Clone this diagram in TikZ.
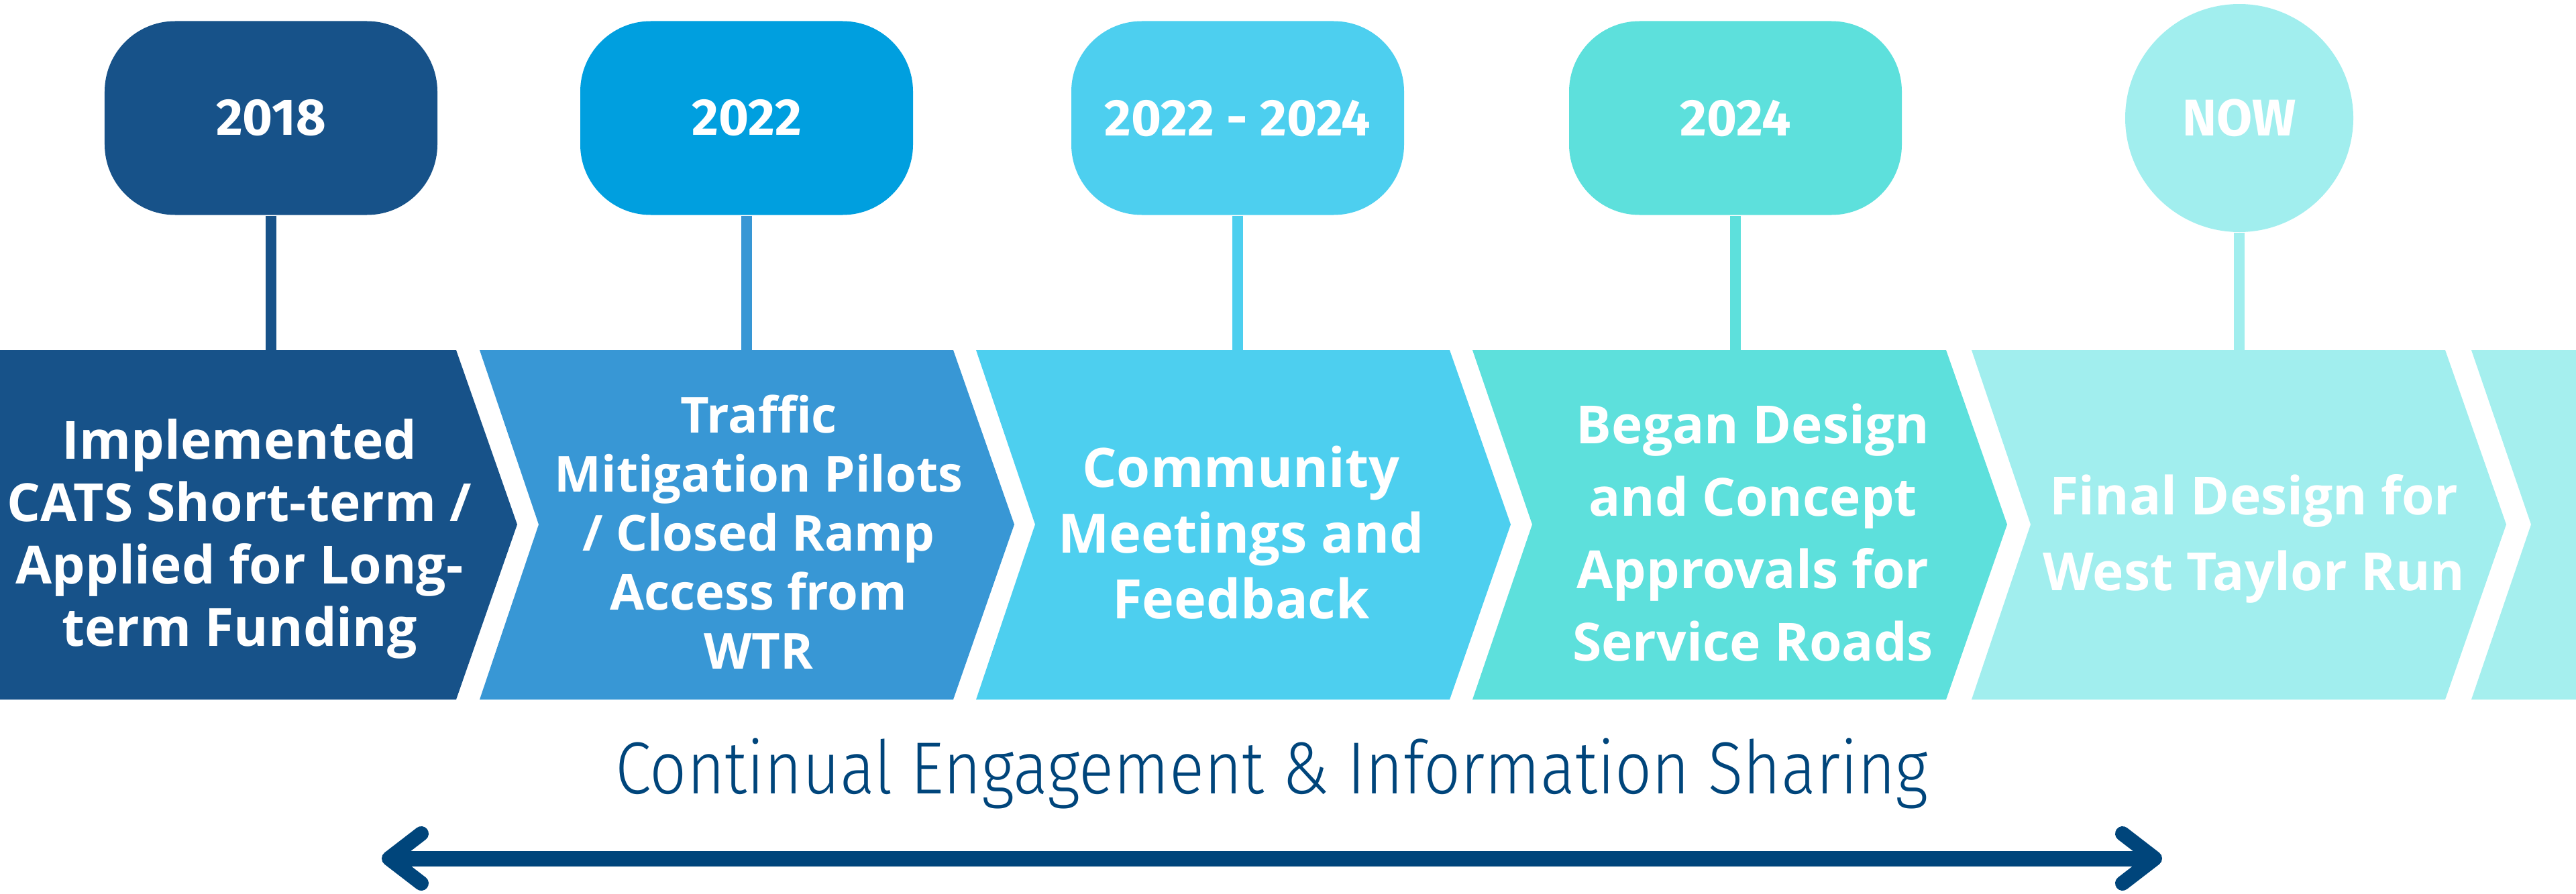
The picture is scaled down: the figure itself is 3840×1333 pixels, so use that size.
\documentclass[tikz,border=0pt]{standalone}
\usepackage{fontspec}
\usepackage{graphicx}
\newfontfamily\fira{Fira Sans}
\newfontfamily\opens{Open Sans}
\newfontfamily\firalt{Fira Sans Light}
\definecolor{cA}{HTML}{175289}
\definecolor{cBbox}{HTML}{009FDF}
\definecolor{cB}{HTML}{3897D5}
\definecolor{cC}{HTML}{4DCFEF}
\definecolor{cD}{HTML}{5DE0DC}
\definecolor{cE}{HTML}{A1EEEE}
\definecolor{cF}{HTML}{A5EFEE}
\definecolor{navy}{HTML}{00457B}
\newcommand\ms{\rule[-0.25em]{0pt}{1.1em}}
\begin{document}
\begin{tikzpicture}[x=0.2pt,y=-0.2pt,
  yearbox/.style={rounded corners=21pt, minimum width=99.2pt, minimum height=57.8pt, inner sep=0pt, text=white, font=\fira\bfseries\fontsize{15.4}{18}\selectfont},
  nowcirc/.style={circle, minimum size=68pt, inner sep=0pt, text=white, font=\fira\bfseries\fontsize{15.4}{18}\selectfont},
  stemline/.style={line width=3.2pt},
  chevtext/.style={text=white, align=center, inner sep=0pt}]
\useasboundingbox (0,0) rectangle (3840,1333);
% year boxes
\node[yearbox, fill=cA] (y1) at (404,176) {2018};
\node[yearbox, fill=cBbox] (y2) at (1113,176) {2022};
\node[yearbox, fill=cC] (y3) at (1845,176) {2022 - 2024};
\node[yearbox, fill=cD] (y4) at (2587,176) {2024};
\node[nowcirc, fill=cE] (y5) at (3338,176) {NOW};
% stems
\coordinate (s1) at (404,530);
\coordinate (s2) at (1113,530);
\coordinate (s3) at (1845,530);
\coordinate (s4) at (2587,530);
\coordinate (s5) at (3338,530);
\draw[stemline, cA] (y1) -- (s1);
\draw[stemline, cB] (y2) -- (s2);
\draw[stemline, cC] (y3) -- (s3);
\draw[stemline, cD] (y4) -- (s4);
\draw[stemline, cE] (y5) -- (s5);
% chevrons
\fill[cA] (0,522) -- (680,522) -- (771,782) -- (680,1043) -- (0,1043) -- cycle;
\fill[cB] (715,522) -- (1421,522) -- (1512,782) -- (1421,1043) -- (715,1043) -- (803,782) -- cycle;
\fill[cC] (1455,522) -- (2161,522) -- (2252,782) -- (2161,1043) -- (1455,1043) -- (1543,782) -- cycle;
\fill[cD] (2195,522) -- (2901,522) -- (2992,782) -- (2901,1043) -- (2195,1043) -- (2284,782) -- cycle;
\fill[cE] (2939,522) -- (3645,522) -- (3736,782) -- (3645,1043) -- (2939,1043) -- (3027,782) -- cycle;
\fill[cF] (3684,522) -- (3840,522) -- (3840,1043) -- (3684,1043) -- (3773,782) -- cycle;
% chevron texts
\node[chevtext, font=\opens\bfseries\fontsize{15.7}{18.6}\selectfont] (t1) at (357,800)
  {\ms Implemented\\\ms CATS Short-term /\\\ms Applied for Long-\\\ms term Funding};
\node[chevtext, font=\opens\bfseries\fontsize{14.8}{17.6}\selectfont] (t2) at (1131,799)
  {\ms Traffic\\\ms Mitigation Pilots\\\ms / Closed Ramp\\\ms Access from\\\ms WTR};
\node[chevtext, font=\opens\bfseries\fontsize{16.2}{19.6}\selectfont] (t3) at (1850,800)
  {\ms Community\\\ms Meetings and\\\ms Feedback};
\node[chevtext, font=\opens\bfseries\fontsize{15.7}{21.6}\selectfont] (t4) at (2613,800)
  {\ms Began Design\\\ms and Concept\\\ms Approvals for\\\ms Service Roads};
\node[chevtext, font=\opens\bfseries\fontsize{15.7}{22.6}\selectfont] (t5) at (3360,800)
  {\ms Final Design for\\\ms West Taylor Run};
% bottom label
\node[anchor=base, inner sep=0pt, text=navy, font=\firalt\fontsize{22}{26}\selectfont] (eng) at (1896,1183)
  {\resizebox{391.4pt}{\height}{Continual Engagement \& Information Sharing}};
% double arrow
\coordinate (aL) at (580,1280);
\coordinate (aR) at (3212,1280);
\draw[navy, line width=4.6pt] (aL) -- (aR);
\draw[navy, line width=4.4pt, line cap=round, line join=round] ([shift={(48,-37)}]aL) -- (aL) -- ([shift={(48,37)}]aL);
\draw[navy, line width=4.4pt, line cap=round, line join=round] ([shift={(-48,-37)}]aR) -- (aR) -- ([shift={(-48,37)}]aR);
\end{tikzpicture}
\end{document}
